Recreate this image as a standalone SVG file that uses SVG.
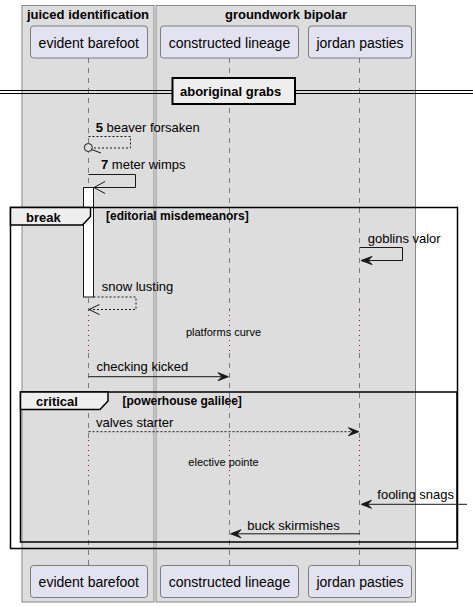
<svg xmlns="http://www.w3.org/2000/svg" width="473" height="607" viewBox="0 0 473 607">
<defs>
<style>
text{font-family:"Liberation Sans",Arial,sans-serif;fill:#000}
.grp{fill:#DDDDDD;stroke:#888888;stroke-width:1}
.gt{font-size:13px;font-weight:bold;text-anchor:middle}
.part rect{fill:#E2E2F0;stroke:#181818;stroke-width:0.5}
.part text{font-size:14px;text-anchor:middle}
.life{stroke:#181818;stroke-width:0.5;stroke-dasharray:5,5;fill:none}
.delay{stroke:#A80036;stroke-width:1;stroke-dasharray:1,4;fill:none}
.msg{stroke:#181818;stroke-width:1;fill:none}
.dash{stroke-dasharray:2,2}
.head{fill:#181818;stroke:#181818;stroke-width:1}
.mt{font-size:13px}
.num{font-weight:bold}
.dt{font-size:11px;text-anchor:middle}
.frame{fill:none;stroke:#000;stroke-width:1.5}
.tab{fill:#EEEEEE;stroke:#000;stroke-width:1.5}
.ft{font-size:13px;font-weight:bold}
.guard{font-size:12px;font-weight:bold}
</style>
</defs>
<g id="box-juiced">
<rect class="grp" x="22" y="5.5" width="132" height="596.5"/>
<text class="gt" x="88" y="19">juiced identification</text>
</g>
<g id="box-groundwork">
<rect class="grp" x="156" y="5.5" width="259.5" height="596.5"/>
<text class="gt" x="286" y="19">groundwork bipolar</text>
</g>
<g id="lifelines">
<path class="life" d="M88.5,58V310M88.5,353V440M88.5,480V565"/>
<path class="life" d="M229.5,58V310M229.5,353V440M229.5,480V565"/>
<path class="life" d="M359.5,58V310M359.5,353V440M359.5,480V565"/>
<path class="delay" d="M88.5,310V353M229.5,310V353M359.5,310V353"/>
<path class="delay" d="M88.5,440V480M229.5,440V480M359.5,440V480"/>
</g>
<g id="divider">
<path d="M0,90.5H473M0,93.5H473" stroke="#000" stroke-width="1" fill="none"/>
<rect x="172.5" y="78" width="122.5" height="26" fill="#EEEEEE" stroke="#000" stroke-width="2"/>
<text class="ft" x="180" y="95.5">aboriginal grabs</text>
</g>
<g id="p-evident-top" class="part"><rect x="30.5" y="26" width="117" height="32" rx="3"/><text x="88.8" y="47.5">evident barefoot</text></g>
<g id="p-constructed-top" class="part"><rect x="160.5" y="26" width="138" height="32" rx="3"/><text x="229.5" y="47.5">constructed lineage</text></g>
<g id="p-jordan-top" class="part"><rect x="308.5" y="26" width="103" height="32" rx="3"/><text x="360" y="47.5">jordan pasties</text></g>
<g id="p-evident-bottom" class="part"><rect x="30.5" y="565.5" width="117" height="32" rx="3"/><text x="88.8" y="587">evident barefoot</text></g>
<g id="p-constructed-bottom" class="part"><rect x="160.5" y="565.5" width="138" height="32" rx="3"/><text x="229.5" y="587">constructed lineage</text></g>
<g id="p-jordan-bottom" class="part"><rect x="308.5" y="565.5" width="103" height="32" rx="3"/><text x="360" y="587">jordan pasties</text></g>
<g id="activation">
<rect x="83.5" y="187.5" width="10" height="109.5" fill="#FFFFFF" stroke="#181818" stroke-width="1"/>
</g>
<g id="frames">
<rect class="frame" x="10.5" y="207.5" width="447" height="341"/>
<path class="tab" d="M10.5,207.5H90.5V216.5L82.5,225H10.5Z"/>
<text class="ft" x="26" y="221.5">break</text>
<text class="guard" x="106" y="220">[editorial misdemeanors]</text>
<rect class="frame" x="20.5" y="392" width="436.5" height="150"/>
<path class="tab" d="M20.5,392H108V401L100,409.5H20.5Z"/>
<text class="ft" x="36" y="406">critical</text>
<text class="guard" x="122.5" y="405">[powerhouse galilee]</text>
</g>
<g id="connectors">
<path class="msg dash" d="M88.5,136.5H130.5V148H92.5"/>
<circle cx="88.3" cy="147.5" r="4" fill="#DDDDDD" stroke="#181818" stroke-width="1"/>
<path class="msg" d="M91.5,149.5L101,153"/>
<text class="mt" x="95.7" y="131.5"><tspan class="num">5</tspan> beaver forsaken</text>
<path class="msg" d="M88.5,174.5H135.5V187.5H94"/>
<path class="msg" d="M105,181.5L94,187.5L105,193.5"/>
<text class="mt" x="101" y="168.5"><tspan class="num">7</tspan> meter wimps</text>
<path class="msg" d="M359.5,247.5H402.5V260.5H362"/>
<polygon class="head" points="372,256.5 361,260.5 372,264.5 368,260.5"/>
<text class="mt" x="367.7" y="243.3">goblins valor</text>
<path class="msg dash" d="M93.5,297H136V309.5H89"/>
<path class="msg" d="M99.5,304.5L89,309.5L99.5,314.5"/>
<text class="mt" x="101.7" y="290.5">snow lusting</text>
<text class="dt" x="223.5" y="336">platforms curve</text>
<path class="msg" d="M88.5,376.7H226"/>
<polygon class="head" points="218,372.7 228.3,376.7 218,380.7 222,376.7"/>
<text class="mt" x="96.5" y="371">checking kicked</text>
<path class="msg dash" d="M88.5,431.7H356"/>
<polygon class="head" points="348.5,427.7 358.8,431.7 348.5,435.7 352.5,431.7"/>
<text class="mt" x="96" y="427">valves starter</text>
<text class="dt" x="223.5" y="465.5">elective pointe</text>
<path class="msg" d="M364,504.3H467"/>
<polygon class="head" points="371.5,500.3 361.3,504.3 371.5,508.3 367.5,504.3"/>
<text class="mt" x="377.3" y="498.5">fooling snags</text>
<path class="msg" d="M233,533.8H359.5"/>
<polygon class="head" points="241,529.8 230.7,533.8 241,537.8 237,533.8"/>
<text class="mt" x="247.3" y="529.5">buck skirmishes</text>
</g>
</svg>
